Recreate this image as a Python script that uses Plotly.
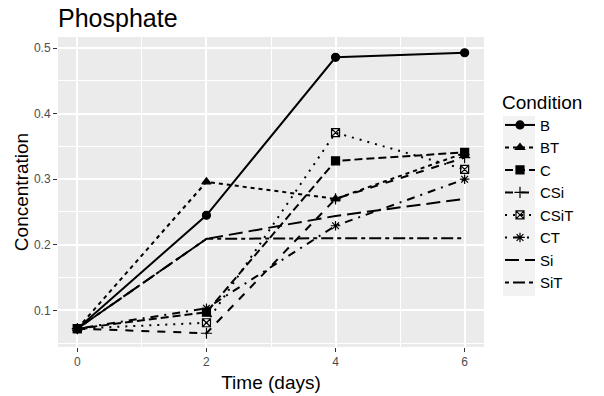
import plotly.graph_objects as go

days = [0, 2, 4, 6]
conditions = ["B", "BT", "C", "CSi", "CSiT", "CT", "Si", "SiT"]
B = [0.072, 0.245, 0.486, 0.493]
BT = [0.072, 0.296, 0.270, 0.340]
C = [0.072, 0.097, 0.328, 0.341]
CSi = [0.072, 0.065, 0.270, 0.333]
CSiT = [0.072, 0.081, 0.371, 0.315]
CT = [0.072, 0.103, 0.229, 0.300]
Si = [0.072, 0.209, 0.244, 0.270]
SiT = [0.072, 0.209, 0.210, 0.210]
values = [B, BT, C, CSi, CSiT, CT, Si, SiT]

dashes = ["solid", "4px,4px", "8px,4px", "8px,8px", "2px,6px",
          "2px,6px,8px,6px", "14px,6px", "4px,4px,12px,4px"]
symbols = ["circle", "triangle-up", "square", "cross-thin-open",
           "square-x-open", "asterisk-open", None, None]

fig = go.Figure()
for name, vals, dash, sym in zip(conditions, values, dashes, symbols):
    if sym is None:
        fig.add_trace(go.Scatter(x=days, y=vals, name=name, mode="lines",
                                 line=dict(color="black", width=2, dash=dash)))
    else:
        fig.add_trace(go.Scatter(x=days, y=vals, name=name, mode="lines+markers",
                                 line=dict(color="black", width=2, dash=dash),
                                 marker=dict(symbol=sym, size=8, color="black",
                                             line=dict(color="black", width=1.2))))

L, R, T, Bm = 58, 120, 37, 49
PW, PH = 604 - L - R, 396 - T - Bm


def px_x(px):
    return (px - L) / PW


def px_y(py):
    return (396 - Bm - py) / PH


fig.update_layout(
    width=604, height=396,
    margin=dict(l=L, r=R, t=T, b=Bm),
    paper_bgcolor="white", plot_bgcolor="#EBEBEB",
    font=dict(family="Liberation Sans, Arial, sans-serif", color="black"),
    title=dict(text="Phosphate", font=dict(size=25, color="black"),
               x=0, xref="paper", xanchor="left",
               y=1 - 18 / 396, yref="container", yanchor="middle"),
    xaxis=dict(range=[-0.3, 6.3], tickvals=[0, 2, 4, 6], ticktext=["0", "2", "4", "6"],
               showgrid=True, gridcolor="white", gridwidth=1.5, automargin=False,
               minor=dict(tickvals=[1, 3, 5], showgrid=True, gridcolor="white", gridwidth=0.7),
               ticks="outside", ticklen=4, tickcolor="#333333", tickwidth=1,
               tickfont=dict(size=12, color="#4D4D4D"), zeroline=False,
               title=dict(text="Time (days)", font=dict(size=19), standoff=7)),
    yaxis=dict(range=[0.044, 0.517], tickvals=[0.1, 0.2, 0.3, 0.4, 0.5],
               ticktext=["0.1", "0.2", "0.3", "0.4", "0.5"],
               showgrid=True, gridcolor="white", gridwidth=1.5, automargin=False,
               minor=dict(tickvals=[0.05, 0.15, 0.25, 0.35, 0.45], showgrid=True,
                          gridcolor="white", gridwidth=0.7),
               ticks="outside", ticklen=4, tickcolor="#333333", tickwidth=1,
               tickfont=dict(size=12, color="#4D4D4D"), zeroline=False,
               title=dict(text="Concentration", font=dict(size=19), standoff=0)),
    legend=dict(title=dict(text="Condition", font=dict(size=19)),
                font=dict(size=15), x=px_x(500), xanchor="left",
                y=px_y(84), yanchor="top", bgcolor="rgba(0,0,0,0)",
                tracegroupgap=0),
    shapes=[dict(type="rect", xref="paper", yref="paper",
                 x0=px_x(503), x1=px_x(535), y0=px_y(296), y1=px_y(116),
                 fillcolor="#F2F2F2", line=dict(width=0), layer="below")],
    showlegend=True,
)

fig.write_html("out.html")
